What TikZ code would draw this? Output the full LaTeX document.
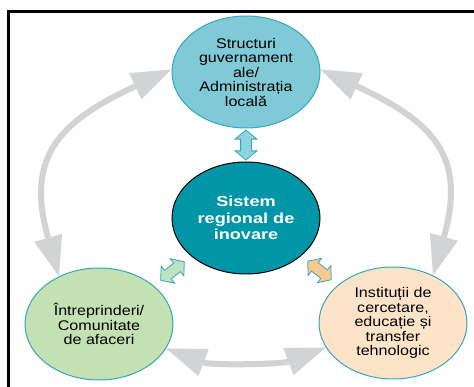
\documentclass[tikz,border=0pt]{standalone}
\usepackage{fontspec}
\setmainfont{Liberation Sans}[FakeStretch=1.15]
\newfontfamily\hubfont{Liberation Sans}[FakeStretch=1.25]
\usepackage{tikz}
\usetikzlibrary{shapes.geometric}
\usetikzlibrary{shapes.arrows}
\usetikzlibrary{arrows.meta}
\usetikzlibrary{calc}
\definecolor{rim}{HTML}{33A8BB}
\definecolor{govfill}{HTML}{80C9D6}
\definecolor{hubfill}{HTML}{0095A7}
\definecolor{bizfill}{HTML}{C3E1B2}
\definecolor{resfill}{HTML}{FDE4C8}
\definecolor{arcgray}{HTML}{D1D3D5}
\definecolor{vfill}{HTML}{8FD3DF}
\definecolor{gfill}{HTML}{BDE3C3}
\definecolor{ofill}{HTML}{F9C98D}

\begin{document}
\begin{tikzpicture}[x=1pt,y=-1pt,
  blob/.style={ellipse,draw=rim,line width=1pt,minimum width=148pt,minimum height=112pt,
    inner sep=0pt,align=center,font=\fontsize{14}{14.5}\selectfont},
  link/.style={double arrow,draw=rim,line width=0.8pt,minimum height=30pt,minimum width=21pt,
    inner sep=5pt,double arrow head extend=5.5pt,double arrow tip angle=100},
  cyc/.style={draw=arcgray,line width=6pt,
    {Triangle[length=40pt,width=29pt,line width=0pt]}-{Triangle[length=40pt,width=29pt,line width=0pt]}}]
\useasboundingbox (0,0) rectangle (474,387);
\draw[line width=2.3pt] (474,11.5) -- (8.5,11.5) -- (8.5,387);
\node[blob,fill=govfill] (gov) at (246,72) {Structuri\\guvernament\\ale/\\Administrația\\locală};
\node[blob,draw=black,fill=hubfill,text=white,
  font=\hubfont\bfseries\fontsize{14.5}{16.3}\selectfont] (hub) at (246,218) {Sistem\\regional de\\inovare};
\node[blob,fill=bizfill] (biz) at (99,324) {Întreprinderi/\\Comunitate\\de afaceri};
\node[blob,fill=resfill] (res) at (393,323) {Instituții de\\cercetare,\\educație și\\transfer\\tehnologic};
\node[link,fill=vfill,rotate=90] at ($(gov.south)!0.5!(hub.north)$) {};
\node[link,fill=gfill,rotate=38] at ($(biz.45)!0.5!(hub.225)$) {};
\node[link,fill=ofill,rotate=-38] at ($(res.135)!0.5!(hub.-45)$) {};
\draw[cyc] (biz.130) .. controls +(-34,-120) and +(-112,52) .. (gov.178);
\draw[cyc] (res.50) .. controls +(34,-120) and +(112,52) .. (gov.2);
\draw[cyc] (biz.-20) .. controls +(45,17) and +(-45,17) .. (res.200);
\end{tikzpicture}
\end{document}
